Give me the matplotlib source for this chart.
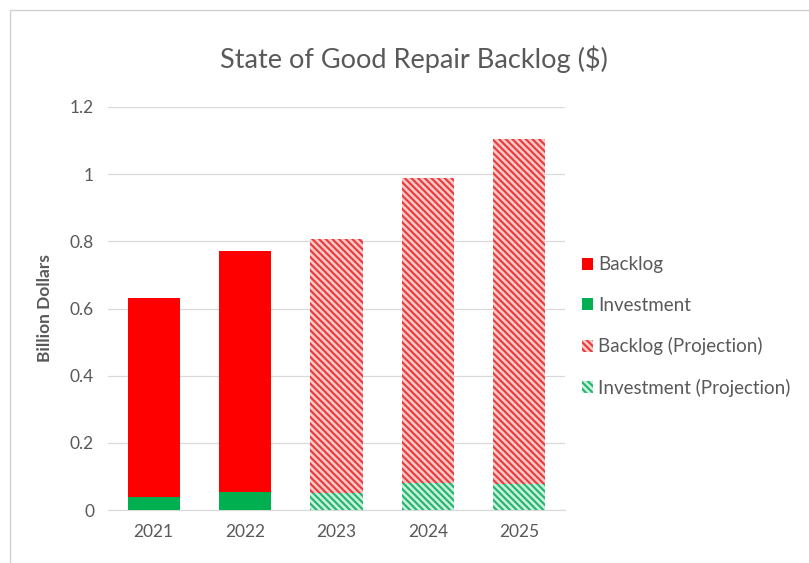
import matplotlib.pyplot as plt
from matplotlib.patches import Rectangle, Patch

plt.rcParams['font.family'] = ['Lato', 'DejaVu Sans']
plt.rcParams['hatch.linewidth'] = 1.5

years = ['2021', '2022', '2023', '2024', '2025']
investment = [0.038, 0.054, 0.05, 0.08, 0.077]
backlog = [0.593, 0.716, 0.756, 0.91, 1.027]
projected = [False, False, True, True, True]

red = '#ff0000'
green = '#00b050'
red_hatch = '#e83a3a'
green_hatch = '#22b46c'
hatch = '\\\\\\\\\\'

fig = plt.figure(figsize=(8.09, 5.63), dpi=100)
ax = fig.add_axes([0.1335, 0.094, 0.565, 0.716])

x = range(len(years))
w = 0.57
for i in x:
    if projected[i]:
        ax.bar(i, investment[i], w, color='#c8f0dc', edgecolor=green_hatch,
               hatch=hatch, linewidth=0, zorder=3)
        ax.bar(i, backlog[i], w, bottom=investment[i], color='#fbc8c8',
               edgecolor=red_hatch, hatch=hatch, linewidth=0, zorder=3)
    else:
        ax.bar(i, investment[i], w, color=green, linewidth=0, zorder=3)
        ax.bar(i, backlog[i], w, bottom=investment[i], color=red,
               linewidth=0, zorder=3)

ax.set_xlim(-0.5, 4.5)
ax.set_ylim(0, 1.2)
ax.set_xticks(list(x))
ax.set_xticklabels(years)
ax.set_yticks([0, 0.2, 0.4, 0.6, 0.8, 1.0, 1.2])
ax.set_yticklabels(['0', '0.2', '0.4', '0.6', '0.8', '1', '1.2'])
ax.grid(axis='y', color='#d9d9d9', linewidth=0.9, zorder=0)
for s in ['top', 'right', 'left']:
    ax.spines[s].set_visible(False)
ax.spines['bottom'].set_color('#d9d9d9')
ax.tick_params(length=0, labelsize=12.5, colors='#595959', pad=10)
ax.set_ylabel('Billion Dollars', fontsize=12.5, color='#595959',
              fontweight='bold', labelpad=12)

fig.text(0.512, 0.895, 'State of Good Repair Backlog ($)', ha='center',
         va='center', fontsize=19.5, color='#595959')

handles = [
    Patch(facecolor=red, linewidth=0),
    Patch(facecolor=green, linewidth=0),
    Patch(facecolor='#fbc8c8', edgecolor=red_hatch, hatch=hatch, linewidth=0),
    Patch(facecolor='#c8f0dc', edgecolor=green_hatch, hatch=hatch, linewidth=0),
]
labels = ['Backlog', 'Investment', 'Backlog (Projection)', 'Investment (Projection)']
leg = fig.legend(handles, labels, loc='center left', bbox_to_anchor=(0.698, 0.42),
                 frameon=False, fontsize=13.5, handlelength=0.6, handleheight=0.6,
                 handletextpad=0.3, labelspacing=1.25, labelcolor='#595959')

fig.patches.append(Rectangle((0.012, -0.01), 0.99, 0.993, transform=fig.transFigure,
                             fill=False, edgecolor='#d0d0d0', linewidth=1))

fig.savefig('out.png', dpi=100)
